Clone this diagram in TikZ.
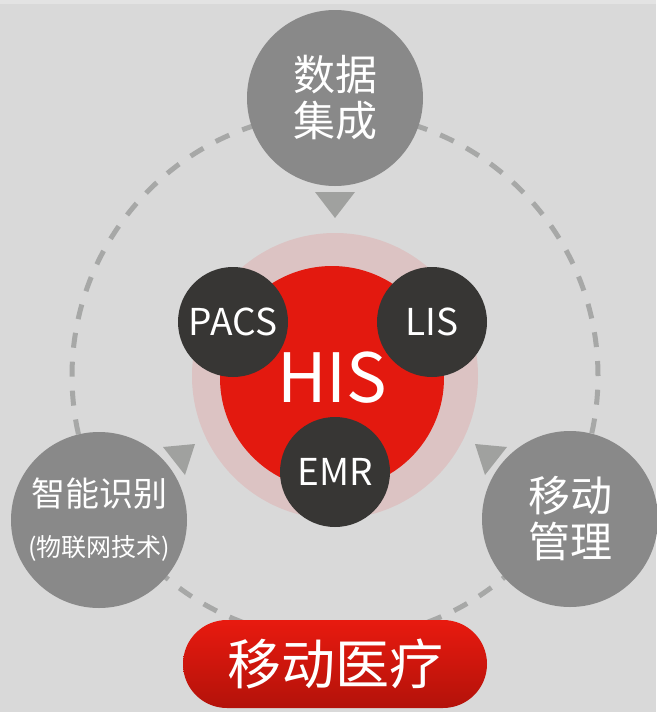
\documentclass[tikz,border=0pt]{standalone}
\usepackage{fontspec}
\setmainfont{Noto Sans CJK SC}
\definecolor{bggray}{HTML}{D9D9D9}
\definecolor{stripgray}{HTML}{E3E3E3}
\definecolor{satgray}{HTML}{898989}
\definecolor{trigray}{HTML}{A0A19F}
\definecolor{dashgray}{HTML}{A7A8A7}
\definecolor{ringpink}{HTML}{DCC3C3}
\definecolor{hisred}{HTML}{E3190F}
\definecolor{subdark}{HTML}{373634}
\definecolor{pilltop}{HTML}{E81A0F}
\definecolor{pillbot}{HTML}{B3120A}
\begin{document}
\begin{tikzpicture}[x=1pt, y=-1pt,
                    snode/.style = {shape = circle,
                                    fill = satgray,
                                    inner sep = 0pt,
                                    minimum size = 176pt,
                                    text = white,
                                    align = center,
                                    font = \fontsize{42}{46}\selectfont},
                    dnode/.style = {shape = circle,
                                    fill = subdark,
                                    inner sep = 0pt,
                                    minimum size = 110pt,
                                    text = white,
                                    font = \fontsize{37}{37}\selectfont},
                    dline/.style = {draw = dashgray,
                                    line width = 5pt,
                                    dash pattern = on 15pt off 14pt},
                    tri/.style = {fill = trigray}]
	% background
	\fill[bggray] (0,0) rectangle (656,712);
	\fill[stripgray] (0,0) rectangle (656,4);
	\useasboundingbox (0,0) rectangle (656,712);
	\coordinate (c) at (335,376);
	\draw[dline] (c) circle[radius = 263pt];
	% arrow heads
	\fill[tri] (315,192) -- (355,192) -- (335,218) -- cycle;
	\fill[tri] (163,447) -- (195,444) -- (185,475) -- cycle;
	\fill[tri] (507,447) -- (475,444) -- (485,475) -- cycle;
	% outer nodes
	\node[snode] (data) at (335,98) {数据\\集成};
	\node[snode, font = \fontsize{34}{50}\selectfont] (ident) at (99,520)
	     {智能识别\\{\fontsize{25}{25}\selectfont (物联网技术)}};
	\node[snode] (mgmt) at (570,519) {移动\\管理};
	\node[rounded corners = 44pt, minimum width = 304pt, minimum height = 88pt,
	      top color = pilltop, bottom color = pillbot, inner sep = 0pt,
	      text = white, font = \fontsize{54}{54}\selectfont] (pill) at (335,664) {移动医疗};
	% centre
	\node[circle, fill = ringpink, minimum size = 286pt] (ring) at (c) {};
	\node[circle, fill = hisred, minimum size = 224pt, inner sep = 0pt,
	      text = white, font = \fontsize{68}{68}\selectfont] (his) at (332,378) {HIS};
	\node[dnode] (pacs) at (233,322) {PACS};
	\node[dnode] (lis) at (432,322) {LIS};
	\node[dnode] (emr) at (335,472) {EMR};
\end{tikzpicture}
\end{document}
